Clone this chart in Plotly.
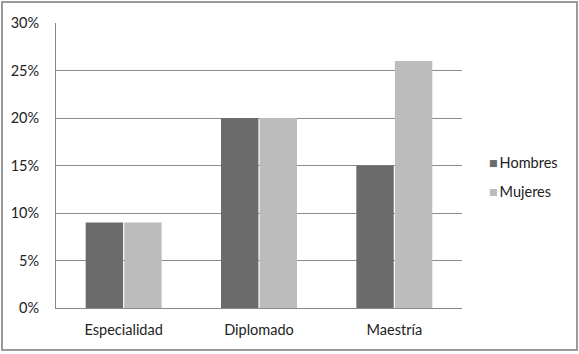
import plotly.graph_objects as go

categories = ["Especialidad", "Diplomado", "Maestría"]
hombres = [9, 20, 15]
mujeres = [9, 20, 26]
series_names = ["Hombres", "Mujeres"]
series_colors = ["#6b6b6b", "#bcbcbc"]
tick_vals = [0, 5, 10, 15, 20, 25, 30]
tick_text = ["0%", "5%", "10%", "15%", "20%", "25%", "30%"]

W, H = 579, 354
L, R, T, B = 56, 462, 23, 308
pw, ph = R - L, B - T

def px(x):
    return (x - L) / pw

def py(y):
    return (B - y) / ph

FAM = "Lato, Open Sans, sans-serif"
font = dict(family=FAM, size=14.5, color="#222222")

fig = go.Figure()
for name, vals, col in zip(series_names, [hombres, mujeres], series_colors):
    fig.add_trace(go.Bar(name=name, x=categories, y=vals, showlegend=False,
                         marker=dict(color=col, line=dict(width=0))))

# legend drawn as text with coloured squares
legend_y = [162, 191]
annotations = []
for name, col, yy in zip(series_names, series_colors, legend_y):
    annotations.append(dict(
        xref="paper", yref="paper", x=px(487), y=py(yy), xanchor="left", yanchor="middle",
        showarrow=False, font=font,
        text=f'<span style="color:{col}">■</span>&#8201;{name}'))

fig.update_layout(
    width=W, height=H,
    margin=dict(l=L, r=W - R, t=T, b=H - B, autoexpand=False),
    paper_bgcolor="white", plot_bgcolor="white",
    barmode="group", bargap=0.43, bargroupgap=0.03,
    font=font,
    showlegend=False,
    xaxis=dict(showgrid=False, showline=True, linecolor="#888888", linewidth=1,
               ticks="", ticklabelstandoff=9, tickfont=font),
    yaxis=dict(range=[0, 30], tickvals=tick_vals, ticktext=tick_text,
               showgrid=True, gridcolor="#8c8c8c", gridwidth=1,
               showline=True, linecolor="#888888", linewidth=1,
               ticks="", ticklabelstandoff=13, tickfont=font, zeroline=False),
    annotations=annotations,
    shapes=[dict(type="rect", xref="paper", yref="paper",
                 x0=px(2), x1=px(577), y0=py(350), y1=py(2),
                 line=dict(color="#9a9a9a", width=2), fillcolor="rgba(0,0,0,0)", layer="above")],
)

fig.write_html("out.html", config={"displayModeBar": False},
               post_script="document.body.style.margin='0';document.body.style.padding='0';")
